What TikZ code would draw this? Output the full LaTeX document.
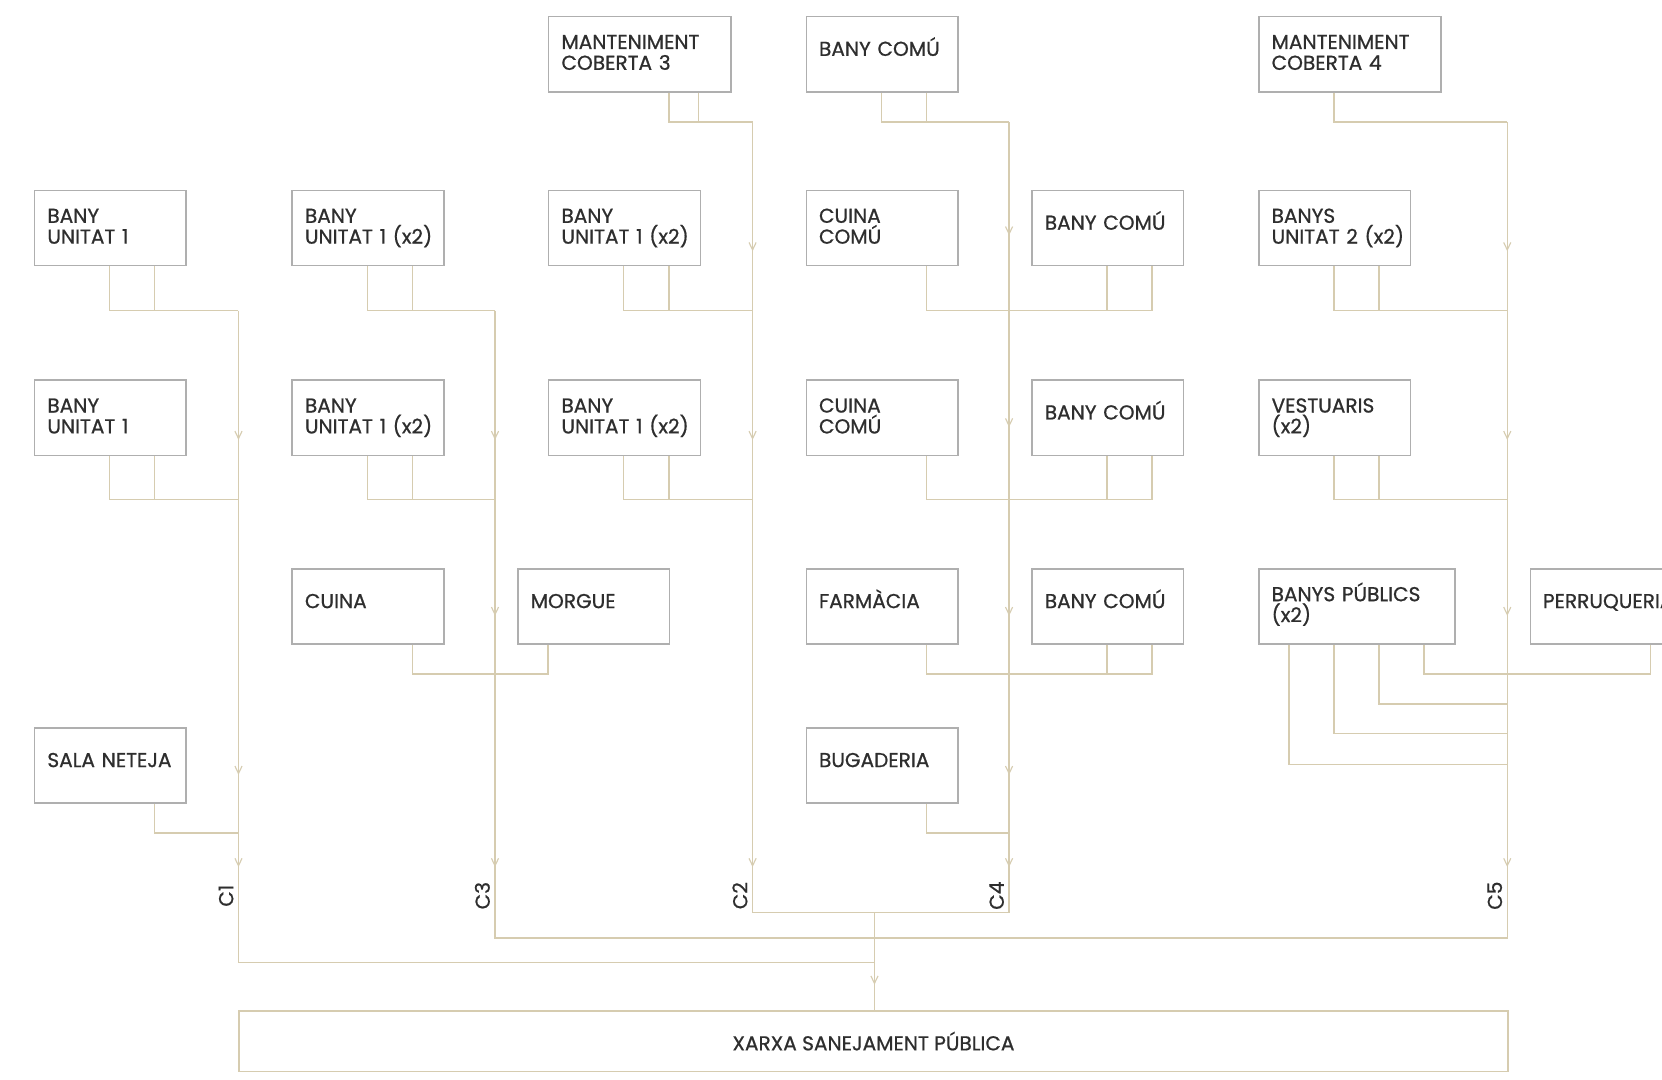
\documentclass[tikz,border=0pt]{standalone}
\usepackage{fontspec}
\setmainfont{Poppins}[FakeBold=0.8]
\usetikzlibrary{arrows.meta,calc}
\definecolor{pipec}{HTML}{D6CCB0}
\definecolor{boxc}{HTML}{AFAFAF}
\definecolor{txtc}{HTML}{2E2E2E}
\newcommand{\roomfont}{\fontsize{10.8}{11.2}\selectfont}
\def\offA{0.58cm}
\def\offB{1.43cm}
\def\offC{2.28cm}
\def\offD{3.13cm}
\begin{document}
\begin{tikzpicture}[x=0.02cm,y=-0.02cm,
  room/.style={draw=boxc, line width=0.8pt, anchor=north west,
    inner xsep=0.24cm, inner ysep=0pt, align=left, text width=#1, font=\roomfont, text=txtc,
    text height=0.61cm, text depth=0.81cm},
  room/.default=2.38cm,
  one/.style={text height=0.74cm, text depth=0.68cm},
  pipe/.style={draw=pipec, line width=0.75pt},
  arr/.style={-{Straight Barb[length=4pt,width=3.8pt,line width=0.6pt]}},
  clabel/.style={rotate=90, anchor=base, font=\roomfont, text=txtc, inner sep=0pt}]
\useasboundingbox (0,0) rectangle (1568,1018);
\fill[white] (0,0) rectangle (1568,1018);
\clip (0,0) rectangle (1568,1018);

% ---- rooms: top row
\node[room=2.96cm] (m3) at (517,15) {MANTENIMENT\\COBERTA~3};
\node[room, one] (bct) at (760,15) {BANY~COMÚ};
\node[room=2.96cm] (m4) at (1187,15) {MANTENIMENT\\COBERTA~4};
% row 1
\node[room] (a1) at (32,179) {BANY\\UNITAT~1};
\node[room] (b1) at (275,179) {BANY\\\mbox{UNITAT~1~(x2)}};
\node[room] (c1) at (517,179) {BANY\\\mbox{UNITAT~1~(x2)}};
\node[room] (d1) at (760,179) {CUINA\\COMÚ};
\node[room, one] (e1) at (973,179) {BANY~COMÚ};
\node[room] (f1) at (1187,179) {BANYS\\\mbox{UNITAT~2~(x2)}};
% row 2
\node[room] (a2) at (32,358) {BANY\\UNITAT~1};
\node[room] (b2) at (275,358) {BANY\\\mbox{UNITAT~1~(x2)}};
\node[room] (c2) at (517,358) {BANY\\\mbox{UNITAT~1~(x2)}};
\node[room] (d2) at (760,358) {CUINA\\COMÚ};
\node[room, one] (e2) at (973,358) {BANY~COMÚ};
\node[room] (f2) at (1187,358) {VESTUARIS\\(x2)};
% row 3
\node[room, one] (b3) at (275,536) {CUINA};
\node[room, one] (mo) at (488,536) {MORGUE};
\node[room, one] (d3) at (760,536) {FARMÀCIA};
\node[room, one] (e3) at (973,536) {BANY~COMÚ};
\node[room=3.22cm] (f3) at (1187,536) {\mbox{BANYS~PÚBLICS}\\(x2)};
\node[room=2.96cm, one] (pe) at (1443,536) {PERRUQUERIA};
% row 4
\node[room, one] (a4) at (32,686) {SALA~NETEJA};
\node[room, one] (d4) at (760,686) {BUGADERIA};
% public network
\node[draw=pipec, line width=0.8pt, anchor=north west, minimum width=23.94cm, minimum height=1.14cm,
  inner sep=0pt, font=\roomfont, text=txtc] (xarxa) at (225,953) {XARXA SANEJAMENT PÚBLICA};

% ---- collector coordinates
\coordinate (k1t) at (225,293);  \coordinate (k1b) at (225,908);
\coordinate (k3t) at (467,293);  \coordinate (k3b) at (467,885);
\coordinate (k2t) at (710,115);  \coordinate (k2b) at (710,861);
\coordinate (k4t) at (952,115);  \coordinate (k4b) at (952,861);
\coordinate (k5t) at (1422,115); \coordinate (k5b) at (1422,885);
\coordinate (mg) at (825,861);   \coordinate (mg1) at (825,908);
% junctions
\coordinate (j1b) at (225,471); \coordinate (j1c) at (225,786);
\coordinate (j3b) at (467,471); \coordinate (j3c) at (467,636);
\coordinate (j2a) at (710,293); \coordinate (j2b) at (710,471);
\coordinate (j4a) at (952,293); \coordinate (j4b) at (952,471); \coordinate (j4c) at (952,636); \coordinate (j4d) at (952,786);
\coordinate (j5a) at (1422,293); \coordinate (j5b) at (1422,471); \coordinate (j5c) at (1422,636);
\coordinate (j5d) at (1422,664); \coordinate (j5e) at (1422,692); \coordinate (j5f) at (1422,721);

% ---- collectors
\draw[pipe] (k1t) -- (k1b) -- (mg1);
\draw[pipe] (k3t) -- (k3b) -- (k5b) -- (k5t);
\draw[pipe] (k2t) -- (k2b) -- (k4b) -- (k4t);
\draw[pipe] (mg) -- (xarxa.north -| mg);

% ---- branches top row
\draw[pipe] ([xshift=2.28cm]m3.south west) |- (k2t);
\draw[pipe] ([xshift=2.84cm]m3.south west) |- (k2t);
\draw[pipe] ([xshift=\offB]bct.south west) |- (k4t);
\draw[pipe] ([xshift=\offC]bct.south west) |- (k4t);
\draw[pipe] ([xshift=\offB]m4.south west) |- (k5t);
% row 1
\draw[pipe] ([xshift=\offB]a1.south west) |- (k1t);
\draw[pipe] ([xshift=\offC]a1.south west) |- (k1t);
\draw[pipe] ([xshift=\offB]b1.south west) |- (k3t);
\draw[pipe] ([xshift=\offC]b1.south west) |- (k3t);
\draw[pipe] ([xshift=\offB]c1.south west) |- (j2a);
\draw[pipe] ([xshift=\offC]c1.south west) |- (j2a);
\draw[pipe] ([xshift=\offC]d1.south west) |- (j4a) -| ([xshift=\offC]e1.south west);
\draw[pipe] ([xshift=\offB]e1.south west) |- (j4a);
\draw[pipe] ([xshift=\offB]f1.south west) |- (j5a);
\draw[pipe] ([xshift=\offC]f1.south west) |- (j5a);
% row 2
\draw[pipe] ([xshift=\offB]a2.south west) |- (j1b);
\draw[pipe] ([xshift=\offC]a2.south west) |- (j1b);
\draw[pipe] ([xshift=\offB]b2.south west) |- (j3b);
\draw[pipe] ([xshift=\offC]b2.south west) |- (j3b);
\draw[pipe] ([xshift=\offB]c2.south west) |- (j2b);
\draw[pipe] ([xshift=\offC]c2.south west) |- (j2b);
\draw[pipe] ([xshift=\offC]d2.south west) |- (j4b) -| ([xshift=\offC]e2.south west);
\draw[pipe] ([xshift=\offB]e2.south west) |- (j4b);
\draw[pipe] ([xshift=\offB]f2.south west) |- (j5b);
\draw[pipe] ([xshift=\offC]f2.south west) |- (j5b);
% row 3
\draw[pipe] ([xshift=\offC]b3.south west) |- (j3c) -| ([xshift=\offA]mo.south west);
\draw[pipe] ([xshift=\offC]d3.south west) |- (j4c) -| ([xshift=\offC]e3.south west);
\draw[pipe] ([xshift=\offB]e3.south west) |- (j4c);
\draw[pipe] ([xshift=\offD]f3.south west) |- (j5c) -| ([xshift=\offC]pe.south west);
\draw[pipe] ([xshift=\offC]f3.south west) |- (j5d);
\draw[pipe] ([xshift=\offB]f3.south west) |- (j5e);
\draw[pipe] ([xshift=\offA]f3.south west) |- (j5f);
% row 4
\draw[pipe] ([xshift=\offC]a4.south west) |- (j1c);
\draw[pipe] ([xshift=\offC]d4.south west) |- (j4d);

% ---- flow arrows
\foreach \x/\y in {225/415, 225/731, 225/818,
                   467/415, 467/581, 467/818,
                   710/237, 710/415, 710/818,
                   952/222, 952/403, 952/581, 952/731, 952/818,
                   1422/237, 1422/415, 1422/581, 1422/818,
                   825/929}
  \draw[pipe, arr] (\x,\y-8) -- (\x,\y);

% ---- collector labels
\node[clabel] (lc1) at (220,845) {C1};
\node[clabel] (lc3) at (462,845) {C3};
\node[clabel] (lc2) at (705,845) {C2};
\node[clabel] (lc4) at (947,845) {C4};
\node[clabel] (lc5) at (1417,845) {C5};
\end{tikzpicture}
\end{document}
